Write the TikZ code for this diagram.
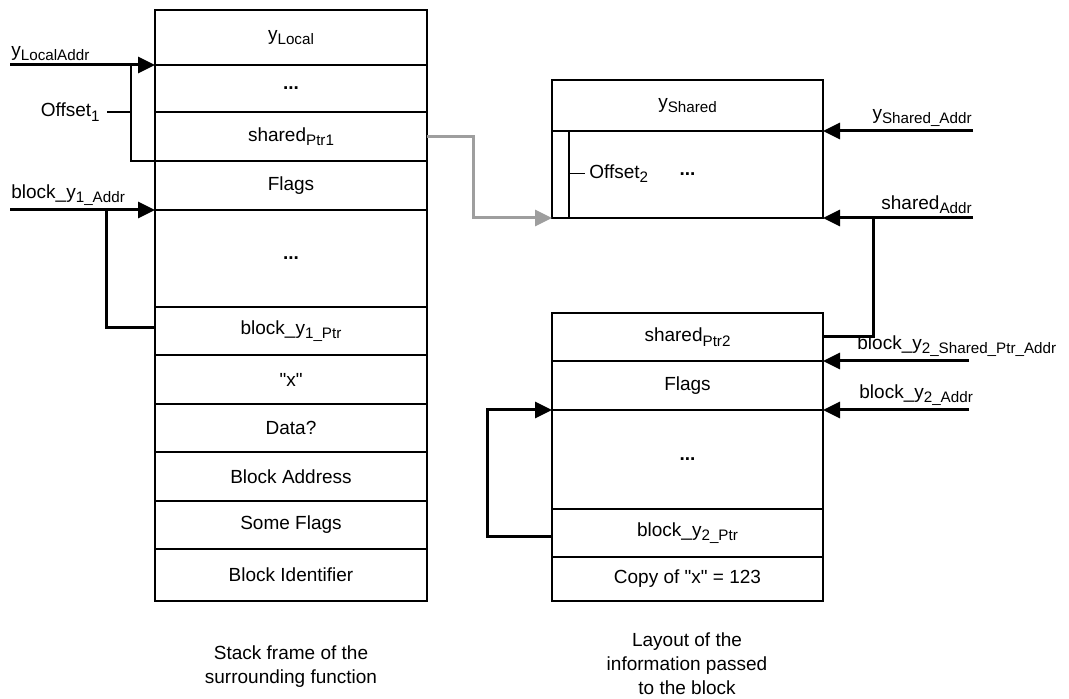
\documentclass[tikz,border=0pt]{standalone}
\usepackage{fontspec}
\setmainfont{Liberation Sans}
\usetikzlibrary{positioning, arrows.meta, calc}
\newcommand{\subtxt}[1]{\raisebox{-2.2pt}{\fontsize{7.6}{9}\selectfont #1}}
\newcommand{\qt}{\textquotedbl}

\begin{document}
\begin{tikzpicture}[
    x=0.5pt, y=-0.5pt,
    every node/.style={font=\fontsize{9.5}{12}\selectfont},
    cell/.style={rectangle, draw, line width=0.6pt, minimum width=136pt, inner sep=0pt, outer sep=0pt},
    rcell/.style={cell, minimum width=135.5pt},
    addr/.style={line width=1.5pt, -{Triangle[length=8.5pt, width=8pt]}},
    loopline/.style={line width=1.5pt},
    ptrline/.style={line width=1.5pt, black!38, -{Triangle[length=8.5pt, width=8pt]}},
    bracket/.style={line width=0.6pt},
    lbl/.style={inner xsep=0.5pt, inner ysep=2pt},
    caption/.style={align=center},
]
\useasboundingbox (0,0) rectangle (1069,699);

% Stack frame of the surrounding function
\node[cell, minimum height=27.5pt] (ylocal) at (291,37.5) {y\subtxt{Local}};
\node[cell, minimum height=23.5pt, below=0pt of ylocal] (dotsA) {\textbf{...}};
\node[cell, minimum height=24.5pt, below=0pt of dotsA] (sptr) {shared\subtxt{Ptr1}};
\node[cell, minimum height=24.5pt, below=0pt of sptr] (flags) {Flags};
\node[cell, minimum height=48.5pt, below=0pt of flags] (dotsB) {\textbf{...}};
\node[cell, minimum height=24pt, below=0pt of dotsB] (bptr) {block\_y\subtxt{1\_Ptr}};
\node[cell, minimum height=24.5pt, below=0pt of bptr] (xval) {\qt x\qt};
\node[cell, minimum height=24pt, below=0pt of xval] (data) {Data?};
\node[cell, minimum height=24.5pt, below=0pt of data] (baddr) {Block Address};
\node[cell, minimum height=24pt, below=0pt of baddr] (sflags) {Some Flags};
\node[cell, minimum height=26pt, below=0pt of sflags] (bid) {Block Identifier};

% Shared block
\node[rcell, minimum height=25.5pt] (ysh) at (687.5,105.5) {y\subtxt{Shared}};
\node[rcell, minimum height=43.5pt, below=0pt of ysh] (shbody) {\textbf{...}};

% Information passed to the block
\node[rcell, minimum height=24pt] (sptr2) at (687.5,337) {shared\subtxt{Ptr2}};
\node[rcell, minimum height=24.5pt, below=0pt of sptr2] (flags2) {Flags};
\node[rcell, minimum height=49.5pt, below=0pt of flags2] (dotsC) {\textbf{...}};
\node[rcell, minimum height=24pt, below=0pt of dotsC] (bptr2) {block\_y\subtxt{2\_Ptr}};
\node[rcell, minimum height=22pt, below=0pt of bptr2] (copyx) {Copy of \qt x\qt{} = 123};

% Offsets
\draw[bracket] ([xshift=-12pt]ylocal.south west) -- ([xshift=-12pt]sptr.south west) -- (sptr.south west);
\node[anchor=east, inner sep=3.5pt] (off1) at ($(sptr.north west)+(-48,0)$) {Offset\subtxt{1}};
\draw[bracket] (off1.east) -- ([xshift=-12pt]sptr.north west);

\draw[bracket] ([xshift=8.5pt]shbody.north west) -- ([xshift=8.5pt]shbody.south west);
\node[anchor=west, inner sep=2pt] (off2) at ($(shbody.west)+(33,-1)$) {Offset\subtxt{2}};
\draw[bracket] ([xshift=8.5pt,yshift=0.5pt]shbody.west) -- (off2.west);

% Left addresses
\coordinate (ylocA) at (10,65);
\draw[addr] (ylocA) -- (ylocal.south west);
\node[lbl, anchor=south west] (ylocL) at (ylocA) {y\subtxt{LocalAddr}};

\coordinate (by1A) at (10,210);
\coordinate (by1J) at (106.5,210);
\draw[addr] (by1A) -- (flags.south west);
\node[lbl, anchor=south west] (by1L) at (by1A) {block\_y\subtxt{1\_Addr}};
\draw[loopline] ([yshift=1.5pt]bptr.west) -| (by1J);

% Pointer to shared block
\draw[ptrline] (sptr.east) -- ++(46,0) |- (shbody.south west);

% Right addresses
\coordinate (yshA) at (973,131);
\draw[addr] (yshA) -- (ysh.south east);
\node[lbl, anchor=south east] (yshL) at (yshA) {y\subtxt{Shared\_Addr}};

\coordinate (shA) at (973,218);
\coordinate (shJ) at (873,218);
\draw[addr] (shA) -- (shbody.south east);
\node[lbl, anchor=south east] (shL) at (shA) {shared\subtxt{Addr}};
\draw[loopline] (sptr2.east) -| (shJ);

\coordinate (bysA) at (969,361);
\draw[addr] (bysA) -- (sptr2.south east);
\node[lbl, anchor=south west] (bysL) at (856,361) {block\_y\subtxt{2\_Shared\_Ptr\_Addr}};

\coordinate (byA) at (969,410);
\draw[addr] (byA) -- (flags2.south east);
\node[lbl, anchor=south west] (byL) at (858,410) {block\_y\subtxt{2\_Addr}};

\draw[addr] ([yshift=-1.5pt]bptr2.west) -- ++(-65,0) |- (flags2.south west);

% Captions
\node[caption] (capL) at (291,667) {Stack frame of the\\surrounding function};
\node[caption] (capR) at (687,664) {Layout of the\\information passed\\to the block};

\end{tikzpicture}
\end{document}
